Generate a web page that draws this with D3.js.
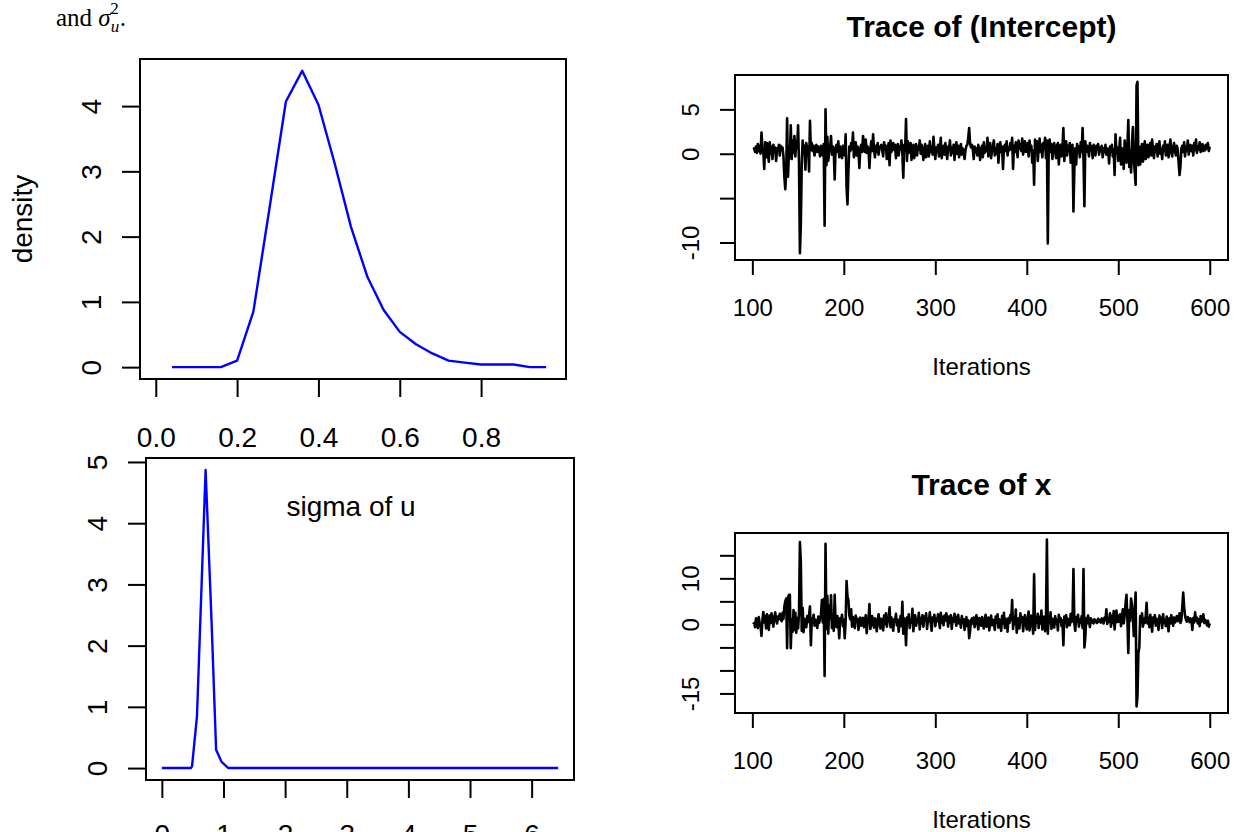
<!DOCTYPE html>
<html>
<head>
<meta charset="utf-8">
<script src="https://cdn.jsdelivr.net/npm/d3@7"></script>
<style>
  body { margin: 0; background: #fff; }
</style>
</head>
<body>
<div id="chart"></div>
<script>
// posterior density of sigma^2_u
var dens_x       = [0.04, 0.08, 0.12, 0.16, 0.20, 0.24, 0.28, 0.32, 0.36, 0.40, 0.44, 0.48,
                    0.52, 0.56, 0.60, 0.64, 0.68, 0.72, 0.76, 0.80, 0.84, 0.88, 0.92, 0.96];
var dens_y       = [0, 0, 0, 0, 0.10, 0.85, 2.45, 4.07, 4.54, 4.02, 3.12, 2.15,
                    1.39, 0.88, 0.54, 0.35, 0.21, 0.10, 0.07, 0.04, 0.04, 0.04, 0, 0];
var dens_xlim    = [0, 0.97];
var dens_x_ticks = [0, 0.2, 0.4, 0.6, 0.8];
var dens_y_ticks = [0, 1, 2, 3, 4];
var dens_ylab    = "density";

// posterior density of sigma of u
var sig_x        = [0, 0.47, 0.49, 0.57, 0.71, 0.81, 0.88, 0.97, 1.08, 6.43];
var sig_y        = [0, 0, 0.03, 0.85, 4.87, 2.30, 0.30, 0.10, 0, 0];
var sig_x_ticks  = [0, 1, 2, 3, 4, 5, 6];
var sig_y_ticks  = [0, 1, 2, 3, 4, 5];
var sig_label    = "sigma of u";
var sig_label_at = [3.07, 4.28];

// MCMC traces, iterations 101..600
var iter_start = 101;
var trace_intercept = [
  0.5, 0.6, 0.2, 0.8, 0.1, 1.1, 0.3, 0.9, 0.0, 2.4,
  0.6, 0.2, -1.7, 1.3, -0.4, 1.2, 0.3, -0.9, 1.3, 0.0,
  0.8, -0.6, 1.0, 0.2, 0.7, -0.8, 0.6, 0.4, 1.0, -0.2,
  0.9, 0.5, 0.7, -0.3, -2.6, -4.0, -2.2, 4.0, -2.6, 0.3,
  -0.5, 3.2, -0.6, 1.5, 0.1, 2.0, -0.3, 1.4, 0.6, 3.2,
  -1.0, -11.2, -8.0, -1.2, 1.5, 0.2, 0.9, -1.8, 1.2, 0.4,
  0.8, -2.0, 3.7, 0.4, 1.2, 0.3, 0.9, -0.2, 0.7, 1.0,
  0.2, 0.8, 0.5, -0.3, 0.9, 0.6, -0.2, 1.1, -8.1, 5.0,
  -1.3, 1.9, -0.8, 0.4, 0.6, 2.0, -0.1, 0.8, 0.3, -2.9,
  0.7, 1.0, 0.2, 1.4, -0.4, 0.8, 0.3, -0.5, 0.9, 0.6,
  -0.2, 2.2, -3.8, -5.7, -2.0, 0.8, 0.3, 1.2, 0.5, 2.4,
  -0.4, 0.6, 1.3, -0.2, 0.8, 0.3, -1.6, 0.6, 1.0, 0.2,
  2.0, 0.9, 0.2, 1.6, 0.1, 0.8, 0.5, -1.6, 0.4, 1.4,
  0.3, 2.2, 0.6, -0.4, 0.9, 0.2, 1.2, -0.1, 0.6, 0.8,
  1.0, 0.4, -0.3, 1.3, 0.5, 0.9, -0.6, 0.6, 1.2, -1.3,
  1.5, 0.2, 0.7, 1.2, 0.4, 1.0, -0.5, 0.6, 1.1, -0.2,
  0.8, 0.5, 1.5, 0.0, -2.7, 1.0, 0.3, 3.9, -0.8, 1.4,
  0.1, 0.7, 1.2, -0.7, 0.4, 1.0, -0.5, 0.6, 1.1, -0.2,
  0.8, 0.5, 1.5, 0.0, 1.0, 0.3, -0.7, 0.7, 1.1, -0.4,
  0.6, 0.9, -0.3, 1.4, 0.2, 0.8, -0.1, 1.9, 0.5, -0.6,
  0.7, 0.2, 1.0, -0.3, 0.6, 1.8, -0.5, 0.4, 0.9, -0.1,
  1.2, 0.3, -0.6, 0.8, 0.5, 1.5, -0.2, 0.7, 0.1, 1.0,
  -0.7, 0.6, 1.3, 0.0, 0.9, -0.4, 0.5, 1.1, -0.1, 0.6,
  0.3, -0.6, 0.4, 0.9, 1.0, 1.8, 2.9, 1.2, 0.7, 1.0,
  0.5, -0.6, 0.8, 0.2, 0.6, -0.2, 1.0, 0.4, -0.7, 0.5,
  0.9, -0.4, 1.3, 0.1, 0.7, 0.3, 1.8, -0.3, 0.6, 1.2,
  -0.5, 0.4, 0.9, 1.5, -0.2, 0.6, 0.0, 1.1, -1.0, 0.5,
  1.3, 0.2, 0.8, -1.7, 0.6, 1.0, 0.3, 1.4, -0.2, 0.7,
  0.4, 1.2, 0.5, 1.8, -1.7, 0.9, 0.2, 1.3, 0.4, -0.4,
  1.5, 0.6, 1.1, 0.3, 1.7, -0.1, 0.9, 1.4, 0.2, 0.8,
  1.2, -0.3, 1.5, 0.4, 0.9, -1.0, 0.3, -3.5, 1.6, 0.2,
  1.4, -0.8, 0.6, 1.7, 0.2, 1.0, -0.4, 1.2, 0.5, 1.8,
  -0.5, 1.5, -10.1, 0.9, 1.6, 0.2, 1.1, -0.6, 0.8, 1.2,
  0.3, -0.5, 0.9, 1.2, -1.2, 0.4, 1.0, -0.3, 0.7, 2.9,
  -0.8, 0.6, 1.4, -0.2, 0.9, 0.3, 1.2, -1.0, 0.5, 1.0,
  -6.5, -1.8, 0.6, -1.2, 1.1, 0.3, 0.8, -0.4, 1.3, 0.2,
  2.9, -0.6, -5.9, 1.4, 0.2, 0.9, 0.5, -0.3, 1.2, 0.4,
  0.8, -0.5, 1.0, 0.3, -0.2, 0.9, 0.5, 1.1, -0.1, 0.7,
  0.3, 0.9, -0.4, 0.6, 0.2, 1.0, -0.1, 0.6, 0.4, -1.1,
  0.8, 0.3, 1.0, -0.3, 0.5, -2.4, 2.2, 0.1, 0.7, -0.8,
  0.4, 1.8, -1.2, 0.6, 0.3, -1.7, 1.5, 0.2, -1.0, 0.9,
  3.8, -1.5, 0.4, -2.1, 1.2, 3.0, -0.8, -2.0, -3.5, 7.7,
  8.1, -1.3, 0.8, -1.2, 0.4, 1.1, -0.9, 0.5, 1.4, -0.6,
  0.3, 1.0, -0.4, 0.6, 1.2, -0.2, 1.6, 0.4, -0.5, 0.8,
  0.2, 1.1, -0.3, 0.7, 1.4, 0.0, 0.6, -0.6, 0.9, 0.3,
  1.4, -0.2, 0.5, 1.0, -0.4, 0.8, 1.6, 0.2, -0.3, 0.7,
  1.2, 0.4, -0.2, 0.9, 0.5, -1.0, -2.4, -1.4, 0.6, 0.9,
  0.2, 1.3, -0.3, 0.8, 0.4, 1.5, -0.1, 0.7, 1.0, 0.3,
  0.9, -0.2, 1.2, 0.4, 1.6, 0.1, 0.8, 0.5, 1.3, 0.2,
  0.7, 1.1, 0.3, 0.9, 0.4, 1.0, 0.6, 1.2, 0.3, 0.8
];
var trace_x = [
  0.0, 0.3, -0.6, 1.3, 0.5, -0.8, 1.6, 0.2, -0.4, -2.5,
  1.0, 2.7, 0.4, 1.8, -0.9, 2.2, 0.6, -1.2, 1.9, 0.3,
  2.4, 0.8, -0.5, 1.5, 2.6, 0.9, 0.2, 1.7, 1.1, 2.3,
  1.4, 0.7, 2.5, 1.2, 3.9, 5.0, 5.6, -5.2, 5.9, 6.4,
  6.4, -5.2, 1.0, -1.6, 3.1, -1.2, 2.5, -1.8, 1.4, -0.9,
  2.2, 17.9, 13.5, -1.4, 3.6, -1.7, 1.2, 0.3, -0.6, 1.8,
  0.5, 2.0, 3.9, -4.5, 1.3, 0.4, 2.1, -0.3, 1.0, 0.6,
  -0.8, 1.7, 0.3, 1.2, 2.0, 5.3, 0.4, 5.5, -11.2, 17.5,
  -1.0, 6.2, -2.0, 4.0, 1.2, 6.3, -0.8, 2.0, -1.4, 6.4,
  0.5, -0.6, 1.8, 0.2, -3.0, 1.3, 0.6, 2.1, -0.4, 1.0,
  -3.0, 0.8, 9.4, 6.0, 5.3, 2.0, 1.1, 3.3, -0.5, 1.6,
  0.3, -0.8, 1.9, 0.6, 1.2, -1.2, 0.8, 1.5, -0.3, 0.9,
  1.4, -0.6, 0.7, 2.0, -1.9, 0.5, 1.1, 4.4, -1.0, 0.3,
  1.8, 0.2, -0.7, 1.3, 0.6, -1.5, 1.0, 2.2, 0.4, -0.9,
  1.2, 0.5, -1.3, 1.9, 0.1, 2.4, -0.5, 0.8, 1.6, 3.7,
  -0.6, 1.5, 0.2, -1.4, 1.1, 0.7, 2.3, -0.2, 1.0, -1.6,
  0.6, 1.8, -0.4, 4.9, -2.0, 1.3, 0.2, -4.5, 1.5, 0.5,
  2.2, -0.8, 1.0, 0.4, 3.4, -1.5, 0.8, 2.0, -0.3, 1.2,
  0.5, 2.5, -1.1, 1.4, 0.2, 2.0, -0.5, 1.7, 0.9, 2.4,
  -1.0, 1.2, 0.6, 2.6, 0.3, -1.4, 1.5, 0.9, 2.1, -0.4,
  1.3, 0.7, 2.2, 1.0, -0.8, 2.5, 0.4, 1.6, -0.2, 1.9,
  0.8, 2.4, 1.2, -0.5, 1.7, 0.3, 2.0, -1.0, 1.4, 0.6,
  2.3, 0.9, -0.3, 1.5, 2.1, 0.2, 1.0, -0.7, 1.8, 0.4,
  1.1, -1.2, 0.7, 1.6, -0.4, 0.9, -3.0, -1.5, 0.8, 1.3,
  0.2, 1.5, -0.6, 1.0, 2.0, 0.3, -1.1, 1.4, 0.7, -0.3,
  1.6, 0.5, -0.9, 1.2, 2.1, -0.5, 0.8, 1.5, -1.3, 0.6,
  1.9, -0.2, 1.0, 0.4, -1.2, 1.7, 0.3, 2.2, -0.7, 1.1,
  0.5, -1.4, 1.8, 0.2, 2.5, -0.8, 1.2, 0.6, -1.6, 1.4,
  0.3, 2.0, 0.9, 5.3, -1.0, 1.5, 0.1, 3.2, -1.8, 0.7,
  1.3, -0.9, 2.4, 0.5, 1.6, -1.5, 0.8, 2.0, 0.2, -1.1,
  1.2, 2.8, -1.3, 0.6, 1.9, 0.3, -2.0, 10.9, -1.2, 1.5,
  0.4, 2.3, -0.8, 1.6, 0.2, 3.0, -1.1, 0.9, 1.7, -1.5,
  0.8, 18.4, -2.0, 1.5, 0.3, 2.6, -1.0, 1.2, 0.5, -0.7,
  1.8, 0.2, 1.0, -1.3, 2.1, 0.6, 1.4, -0.4, 0.9, -4.5,
  1.7, 0.4, 2.0, -0.6, 1.2, 0.8, -0.2, 2.3, 0.5, 1.1,
  12.0, 0.3, -1.4, 1.6, 0.6, 2.1, -0.5, 1.0, 0.4, 1.8,
  -0.8, 12.0, -5.0, -2.8, 1.4, 0.2, 1.9, 0.7, -0.6, 1.3,
  0.4, 0.9, 0.2, 1.1, 0.5, 0.8, 0.3, 1.2, 0.6, 1.0,
  0.4, 1.3, 0.7, 0.2, 1.5, 0.9, 3.3, 0.1, 1.4, 0.6,
  2.4, -0.5, 1.8, 0.3, 2.9, -1.1, 1.6, 3.0, 0.5, 1.9,
  0.6, 2.2, -0.4, 1.5, 3.3, 0.2, 2.0, 4.5, 6.4, 1.0,
  -6.2, 3.1, 0.8, 5.6, 4.2, 1.5, -2.5, 3.0, 6.9, -17.8,
  -15.7, -6.3, -5.0, 1.8, 0.6, 2.4, -0.5, 1.2, 0.3, 1.8,
  4.7, 0.2, 1.4, -0.6, 2.1, 0.9, -1.6, 1.5, 0.4, 2.0,
  -0.3, 1.2, 0.8, -1.2, 1.9, 0.5, 1.4, -0.8, 2.2, 0.3,
  1.0, -0.4, 1.7, 0.6, -1.5, 1.3, 0.2, 2.0, 0.8, -0.3,
  1.5, 0.4, 1.1, 1.8, 0.7, 1.2, 2.4, 0.3, 1.0, 3.8,
  6.9, 3.8, 1.9, 1.0, 0.6, 1.6, 1.2, 0.5, 1.3, 0.9,
  -1.2, 1.4, 0.4, 2.6, 0.8, 1.5, 0.2, 1.1, -0.4, 1.8,
  0.6, 1.2, 2.2, 0.3, 1.0, 0.5, -0.2, 0.8, -0.5, 0.2
];
var trace_x_ticks        = [100, 200, 300, 400, 500, 600];
var intercept_y_ticks    = [-10, -5, 0, 5];
var intercept_y_labels   = [-10, 0, 5];
var x_y_ticks            = [-15, -10, -5, 0, 5, 10, 15];
var x_y_labels           = [-15, 0, 10];
var trace_titles         = ["Trace of (Intercept)", "Trace of x"];
var trace_xlab           = "Iterations";

var FONT  = "'Liberation Sans', Arial, Helvetica, sans-serif";
var width = 1243;
var height = 832;

var svg = d3.select("#chart").append("svg")
  .attr("width", width)
  .attr("height", height)
  .style("display", "block");

// R style range: data extent widened by 4% at each end
function r_range (lo, hi) {
  var d = (hi - lo)*0.04;
  return [lo - d, hi + d];
}

function draw_panel (p) {
  var x = d3.scaleLinear().domain(p.xdom).range([p.left, p.right]);
  var y = d3.scaleLinear().domain(p.ydom).range([p.bottom, p.top]);
  var g = svg.append("g");

  var ax = g.append("g")
    .attr("transform", "translate(0," + p.bottom + ")")
    .call(d3.axisBottom(x)
      .tickValues(p.xticks)
      .tickSize(p.tick)
      .tickPadding(p.xpad)
      .tickFormat(p.xfmt));

  var ay = g.append("g")
    .attr("transform", "translate(" + p.left + ",0)")
    .call(d3.axisLeft(y)
      .tickValues(p.yticks)
      .tickSize(p.tick)
      .tickFormat(function (d) {
        return p.ylabels.indexOf(d) >= 0 ? String(d) : "";
      }));

  [ax, ay].forEach(function (a) {
    a.attr("font-size", p.font).attr("font-family", FONT);
    a.select(".domain").remove();
    a.selectAll(".tick line").attr("stroke", "#000").attr("stroke-width", 2);
    a.selectAll(".tick text").attr("fill", "#000");
  });

  // y labels parallel to the axis, like R's las = 0
  ay.selectAll(".tick text")
    .attr("x", 0)
    .attr("y", -p.ylab)
    .attr("dy", "0.35em")
    .attr("text-anchor", "middle")
    .attr("transform", "rotate(-90)");

  g.append("rect")
    .attr("x", p.left)
    .attr("y", p.top)
    .attr("width", p.right - p.left)
    .attr("height", p.bottom - p.top)
    .attr("fill", "none")
    .attr("stroke", "#000")
    .attr("stroke-width", 2);

  return {x: x, y: y, g: g};
}

// caption fragment above the left plots
var cap = svg.append("text")
  .attr("x", 56)
  .attr("y", 26)
  .attr("font-family", "'Liberation Serif', 'Times New Roman', serif")
  .attr("font-size", 25)
  .attr("fill", "#000");
cap.append("tspan").text("and ");
cap.append("tspan").attr("font-style", "italic").text("\u03c3");
cap.append("tspan").attr("font-style", "italic").attr("font-size", 17).attr("dy", 6).text("u");
cap.append("tspan").attr("font-size", 17).attr("dx", -9).attr("dy", -18).text("2");
cap.append("tspan").attr("dx", 1).attr("dy", 12).text(".");

// top left: density of sigma^2_u
var p1 = draw_panel({
  left: 140, right: 566, top: 59, bottom: 379,
  xdom: r_range(dens_xlim[0], dens_xlim[1]),
  ydom: r_range(0, d3.max(dens_y)),
  xticks: dens_x_ticks, yticks: dens_y_ticks, ylabels: dens_y_ticks,
  xfmt: d3.format(".1f"),
  tick: 18, xpad: 30, ylab: 49, font: 28
});
p1.g.append("path")
  .datum(dens_y)
  .attr("fill", "none")
  .attr("stroke", "#0000ff")
  .attr("stroke-width", 2.4)
  .attr("stroke-linejoin", "round")
  .attr("d", d3.line()
    .x(function (d, i) { return p1.x(dens_x[i]); })
    .y(function (d) { return p1.y(d); }));
svg.append("text")
  .attr("transform", "translate(22," + (p1.y.range()[0] + p1.y.range()[1])/2 + ") rotate(-90)")
  .attr("text-anchor", "middle")
  .attr("dy", "0.35em")
  .attr("font-family", FONT)
  .attr("font-size", 28)
  .text(dens_ylab);

// bottom left: density of sigma of u
var p2 = draw_panel({
  left: 146, right: 574, top: 458, bottom: 780,
  xdom: r_range(d3.min(sig_x), d3.max(sig_x)),
  ydom: r_range(0, d3.max(sig_y)),
  xticks: sig_x_ticks, yticks: sig_y_ticks, ylabels: sig_y_ticks,
  xfmt: d3.format("d"),
  tick: 18, xpad: 26, ylab: 49, font: 28
});
p2.g.append("path")
  .datum(sig_y)
  .attr("fill", "none")
  .attr("stroke", "#0000ff")
  .attr("stroke-width", 2.4)
  .attr("stroke-linejoin", "round")
  .attr("d", d3.line()
    .x(function (d, i) { return p2.x(sig_x[i]); })
    .y(function (d) { return p2.y(d); }));
p2.g.append("text")
  .attr("x", p2.x(sig_label_at[0]))
  .attr("y", p2.y(sig_label_at[1]))
  .attr("dy", "0.35em")
  .attr("text-anchor", "middle")
  .attr("font-family", FONT)
  .attr("font-size", 28)
  .text(sig_label);

// right: trace plots
function draw_trace (vals, top, bottom, yticks, ylabels, title) {
  var iters = vals.map(function (d, i) { return iter_start + i; });
  var p = draw_panel({
    left: 735, right: 1228, top: top, bottom: bottom,
    xdom: r_range(iters[0], iters[iters.length - 1]),
    ydom: r_range(d3.min(vals), d3.max(vals)),
    xticks: trace_x_ticks, yticks: yticks, ylabels: ylabels,
    xfmt: d3.format("d"),
    tick: 15, xpad: 24, ylab: 44, font: 24
  });
  p.g.append("path")
    .datum(vals)
    .attr("fill", "none")
    .attr("stroke", "#000")
    .attr("stroke-width", 2.6)
    .attr("stroke-linejoin", "round")
    .attr("d", d3.line()
      .x(function (d, i) { return p.x(iters[i]); })
      .y(function (d) { return p.y(d); }));
  var cx = (p.x.range()[0] + p.x.range()[1])/2;
  svg.append("text")
    .attr("x", cx)
    .attr("y", top - 49)
    .attr("dy", "0.35em")
    .attr("text-anchor", "middle")
    .attr("font-family", FONT)
    .attr("font-weight", "bold")
    .attr("font-size", 30)
    .text(title);
  svg.append("text")
    .attr("x", cx)
    .attr("y", bottom + 107)
    .attr("dy", "0.35em")
    .attr("text-anchor", "middle")
    .attr("font-family", FONT)
    .attr("font-size", 24)
    .text(trace_xlab);
}

draw_trace(trace_intercept, 75, 260, intercept_y_ticks, intercept_y_labels, trace_titles[0]);
draw_trace(trace_x, 533, 713, x_y_ticks, x_y_labels, trace_titles[1]);
</script>
</body>
</html>
